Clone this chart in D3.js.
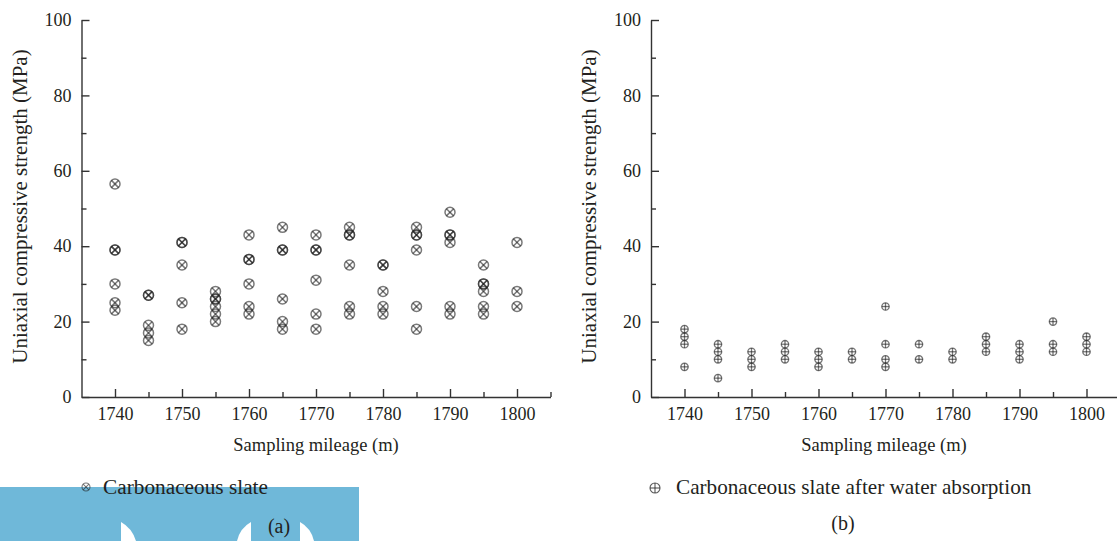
<!DOCTYPE html>
<html>
<head>
<meta charset="utf-8">
<script src="https://cdn.jsdelivr.net/npm/d3@7"></script>
<style>
  html, body { margin: 0; padding: 0; background: #fff; }
  svg { display: block; }
  svg text { font-family: "Liberation Serif", "Tinos", "DejaVu Serif", serif; }
  .axis path, .axis line { stroke: #333; stroke-width: 1.4; }
  .axis text { fill: #231f20; font-size: 18px; }
</style>
</head>
<body>
<svg id="chart" width="1117" height="541"></svg>
<script>
// Sampling positions along the tunnel (m)
const mileage = [1740, 1745, 1750, 1755, 1760, 1765, 1770, 1775, 1780, 1785, 1790, 1795, 1800];

// Uniaxial compressive strength of the natural carbonaceous slate (MPa),
// one list per sampling position; repeated values are listed twice.
const dryStrength = [
  [56.5, 39, 39, 30, 25, 23],
  [27, 27, 19, 17, 15],
  [41, 41, 35, 25, 18],
  [28, 26, 26, 24, 22, 20],
  [43, 36.5, 36.5, 30, 24, 22],
  [45, 39, 39, 26, 20, 18],
  [43, 39, 39, 31, 22, 18],
  [45, 43, 43, 35, 24, 22],
  [35, 35, 28, 24, 22],
  [45, 43, 43, 39, 24, 18],
  [49, 43, 43, 41, 24, 22],
  [35, 30, 30, 28, 24, 22],
  [41, 28, 24]
];

// Strength after water absorption (MPa)
const wetStrength = [
  [18, 16, 14, 8],
  [14, 12, 10, 5],
  [12, 10, 8],
  [14, 12, 10],
  [12, 10, 8],
  [12, 10],
  [24, 14, 10, 8],
  [14, 10],
  [12, 10],
  [16, 14, 12],
  [14, 12, 10],
  [20, 14, 12],
  [16, 14, 12]
];

const yMajor = [0, 20, 40, 60, 80, 100];
const yMinor = [10, 30, 50, 70, 90];
const xMajor = [1740, 1750, 1760, 1770, 1780, 1790, 1800];
const xMinor = [1745, 1755, 1765, 1775, 1785, 1795, 1805];

const seriesNames = ["Carbonaceous slate", "Carbonaceous slate after water absorption"];
const panelTags = ["(a)", "(b)"];
const xTitle = "Sampling mileage (m)";
const yTitle = "Uniaxial compressive strength (MPa)";

const svg = d3.select("#chart");
const markerColor = "#222";

function flatten(values) {
  const pts = [];
  values.forEach((col, i) => col.forEach(v => pts.push({ m: mileage[i], v })));
  return pts;
}

// Circle with a diagonal cross
function drawCross(g, r) {
  g.append("circle").attr("r", r).attr("fill", "none");
  const d = r * 0.72;
  g.append("line").attr("x1", -d).attr("y1", -d).attr("x2", d).attr("y2", d);
  g.append("line").attr("x1", -d).attr("y1", d).attr("x2", d).attr("y2", -d);
}
// Circle with a plus sign
function drawPlus(g, r) {
  g.append("circle").attr("r", r).attr("fill", "none");
  g.append("line").attr("x1", -r).attr("y1", 0).attr("x2", r).attr("y2", 0);
  g.append("line").attr("x1", 0).attr("y1", -r).attr("x2", 0).attr("y2", r);
}

function panel(opts) {
  const x = d3.scaleLinear().domain([1735, 1805]).range([opts.x0, opts.x1]);
  const y = d3.scaleLinear().domain([0, 100]).range([397, 20]);
  const g = svg.append("g");

  // y axis
  g.append("g").attr("class", "axis").attr("transform", `translate(${opts.x0},0)`)
    .call(d3.axisLeft(y).tickValues(yMajor).tickSize(-8).tickSizeOuter(0).tickPadding(10).tickFormat(d3.format("d")));
  g.append("g").attr("class", "axis").attr("transform", `translate(${opts.x0},0)`)
    .call(d3.axisLeft(y).tickValues(yMinor).tickSize(-5).tickSizeOuter(0).tickFormat(""))
    .select(".domain").remove();

  // x axis
  g.append("g").attr("class", "axis").attr("transform", "translate(0,397)")
    .call(d3.axisBottom(x).tickValues(xMajor).tickSize(-8).tickSizeOuter(0).tickPadding(10).tickFormat(d3.format("d")));
  g.append("g").attr("class", "axis").attr("transform", "translate(0,397)")
    .call(d3.axisBottom(x).tickValues(xMinor).tickSize(-5).tickSizeOuter(0).tickFormat(""))
    .select(".domain").remove();

  // axis titles
  g.append("text").attr("x", (opts.x0 + Math.min(opts.x1, 1117)) / 2).attr("y", 451)
    .attr("text-anchor", "middle").attr("font-size", 18.5).attr("fill", "#231f20").text(xTitle);
  g.append("text").attr("transform", `translate(${opts.x0 - 62},${(20 + 397) / 2 - 2}) rotate(-90)`)
    .attr("dy", "0.35em")
    .attr("text-anchor", "middle").attr("font-size", 21).attr("fill", "#231f20").text(yTitle);

  // data points
  const pts = flatten(opts.values);
  g.append("g").selectAll("g").data(pts).join("g")
    .attr("transform", d => `translate(${x(d.m)},${y(d.v)})`)
    .attr("stroke", markerColor).attr("stroke-opacity", opts.opacity).attr("stroke-width", opts.sw)
    .each(function () { opts.marker(d3.select(this), opts.r); });
}

panel({ x0: 81.5, x1: 550.5, values: dryStrength, marker: drawCross, r: 5, sw: 1.5, opacity: 0.6 });
panel({ x0: 651, x1: 1120, values: wetStrength, marker: drawPlus, r: 3.7, sw: 1.3, opacity: 0.62 });

// decorative banner behind the first legend
const banner = svg.append("g");
banner.append("rect").attr("x", 0).attr("y", 487).attr("width", 359).attr("height", 54).attr("fill", "#6fb8d9");
banner.append("path").attr("fill", "#fff").attr("d", "M121,522 Q132,528 136,541 L121,541 Z");
banner.append("path").attr("fill", "#fff").attr("d", "M251,522 Q240,528 237,541 L251,541 Z");
banner.append("path").attr("fill", "#fff").attr("d", "M300,522 Q311,528 314,541 L300,541 Z");

// legends
const leg1 = svg.append("g").attr("transform", "translate(86,487)")
  .attr("stroke", markerColor).attr("stroke-opacity", 0.6).attr("stroke-width", 1.1);
drawCross(leg1, 4);
svg.append("text").attr("x", 103).attr("y", 494).attr("font-size", 21.3).attr("fill", "#231f20").text(seriesNames[0]);

const leg2 = svg.append("g").attr("transform", "translate(655,488)")
  .attr("stroke", markerColor).attr("stroke-opacity", 0.75).attr("stroke-width", 1.1);
drawPlus(leg2, 5);
svg.append("text").attr("x", 676).attr("y", 494).attr("font-size", 21.2).attr("fill", "#231f20").text(seriesNames[1]);

// panel tags
svg.append("text").attr("x", 279).attr("y", 533).attr("text-anchor", "middle").attr("font-size", 20).attr("fill", "#231f20").text(panelTags[0]);
svg.append("text").attr("x", 843).attr("y", 530).attr("text-anchor", "middle").attr("font-size", 20).attr("fill", "#231f20").text(panelTags[1]);
</script>
</body>
</html>
